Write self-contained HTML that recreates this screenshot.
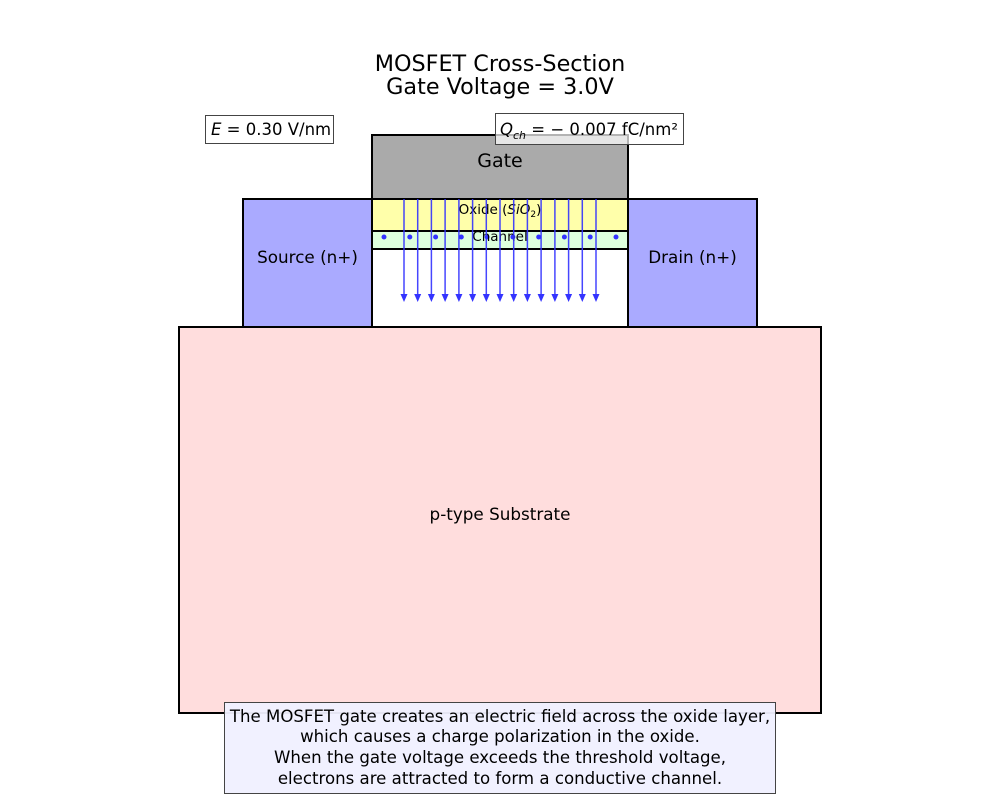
<!DOCTYPE html>
<html><head><meta charset="utf-8"><style>body{margin:0;background:#fff}svg{display:block;font-family:"DejaVu Sans","Liberation Sans",sans-serif}</style></head>
<body>
<svg width="1000" height="800" viewBox="0 0 1000 800" xmlns="http://www.w3.org/2000/svg">
<text x="500" y="71" font-size="22.3" text-anchor="middle">MOSFET Cross-Section</text>
<text x="500" y="94" font-size="22.3" text-anchor="middle">Gate Voltage = 3.0V</text>
<rect x="179" y="327" width="642" height="386" fill="#ffdddd" stroke="#000" stroke-width="2"/>
<rect x="243" y="199" width="129" height="128" fill="#aaaaff" stroke="#000" stroke-width="2"/>
<rect x="628" y="199" width="129" height="128" fill="#aaaaff" stroke="#000" stroke-width="2"/>
<rect x="372" y="249" width="256" height="78" fill="#fff" stroke="#000" stroke-width="2"/>
<rect x="372" y="135" width="256" height="64" fill="#aaaaaa" stroke="#000" stroke-width="2"/>
<rect x="372" y="199" width="256" height="32" fill="#ffffaa" stroke="#000" stroke-width="2"/>
<rect x="372" y="231" width="256" height="18" fill="#ddffdd" stroke="#000" stroke-width="2"/>
<g fill="#3333ff">
<circle cx="384" cy="237" r="2.5"/><circle cx="409.8" cy="237" r="2.5"/><circle cx="435.6" cy="237" r="2.5"/><circle cx="461.3" cy="237" r="2.5"/><circle cx="487.1" cy="237" r="2.5"/><circle cx="512.9" cy="237" r="2.5"/><circle cx="538.7" cy="237" r="2.5"/><circle cx="564.4" cy="237" r="2.5"/><circle cx="590.2" cy="237" r="2.5"/><circle cx="616" cy="237" r="2.5"/>
</g>
<text x="500" y="167" font-size="19" text-anchor="middle">Gate</text>
<text x="500" y="214" font-size="13.5" text-anchor="middle">Oxide (<tspan font-style="italic">SiO</tspan><tspan font-size="9" dy="3">2</tspan><tspan dy="-3">)</tspan></text>
<text x="500" y="241" font-size="13.5" text-anchor="middle">Channel</text>
<g stroke="#3333ff" stroke-width="1.5" opacity="0.9">
<line x1="404" y1="199" x2="404" y2="296"/><line x1="417.7" y1="199" x2="417.7" y2="296"/><line x1="431.4" y1="199" x2="431.4" y2="296"/><line x1="445.1" y1="199" x2="445.1" y2="296"/><line x1="458.9" y1="199" x2="458.9" y2="296"/><line x1="472.6" y1="199" x2="472.6" y2="296"/><line x1="486.3" y1="199" x2="486.3" y2="296"/><line x1="500" y1="199" x2="500" y2="296"/><line x1="513.7" y1="199" x2="513.7" y2="296"/><line x1="527.4" y1="199" x2="527.4" y2="296"/><line x1="541.1" y1="199" x2="541.1" y2="296"/><line x1="554.9" y1="199" x2="554.9" y2="296"/><line x1="568.6" y1="199" x2="568.6" y2="296"/><line x1="582.3" y1="199" x2="582.3" y2="296"/><line x1="596" y1="199" x2="596" y2="296"/>
</g>
<g fill="#3333ff">
<path d="M400.5,294h7l-3.5,8z"/><path d="M414.2,294h7l-3.5,8z"/><path d="M427.9,294h7l-3.5,8z"/><path d="M441.6,294h7l-3.5,8z"/><path d="M455.4,294h7l-3.5,8z"/><path d="M469.1,294h7l-3.5,8z"/><path d="M482.8,294h7l-3.5,8z"/><path d="M496.5,294h7l-3.5,8z"/><path d="M510.2,294h7l-3.5,8z"/><path d="M523.9,294h7l-3.5,8z"/><path d="M537.6,294h7l-3.5,8z"/><path d="M551.4,294h7l-3.5,8z"/><path d="M565.1,294h7l-3.5,8z"/><path d="M578.8,294h7l-3.5,8z"/><path d="M592.5,294h7l-3.5,8z"/>
</g>
<text x="307.5" y="263" font-size="16.8" text-anchor="middle">Source (n+)</text>
<text x="692.5" y="263" font-size="16.8" text-anchor="middle">Drain (n+)</text>
<text x="500" y="520" font-size="16.8" text-anchor="middle">p-type Substrate</text>
<rect x="205.5" y="115.5" width="128" height="28" fill="#fff" stroke="#444" stroke-width="1"/>
<text x="211" y="135" font-size="16.5"><tspan font-style="italic">E</tspan> = 0.30 V/nm</text>
<rect x="495.5" y="113.5" width="188" height="31" fill="#fff" fill-opacity="0.7" stroke="#444" stroke-width="1"/>
<text x="500" y="135" font-size="16.5"><tspan font-style="italic">Q</tspan><tspan font-style="italic" font-size="11" dy="4">ch</tspan><tspan dy="-4"> = − 0.007 fC/nm²</tspan></text>
<rect x="224.5" y="702.5" width="551" height="91" fill="#f0f0ff" fill-opacity="0.95" stroke="#444" stroke-width="1"/>
<g font-size="16.6" text-anchor="middle">
<text x="500" y="722">The MOSFET gate creates an electric field across the oxide layer,</text>
<text x="500" y="742">which causes a charge polarization in the oxide.</text>
<text x="500" y="763">When the gate voltage exceeds the threshold voltage,</text>
<text x="500" y="784">electrons are attracted to form a conductive channel.</text>
</g>
</svg>
</body></html>
